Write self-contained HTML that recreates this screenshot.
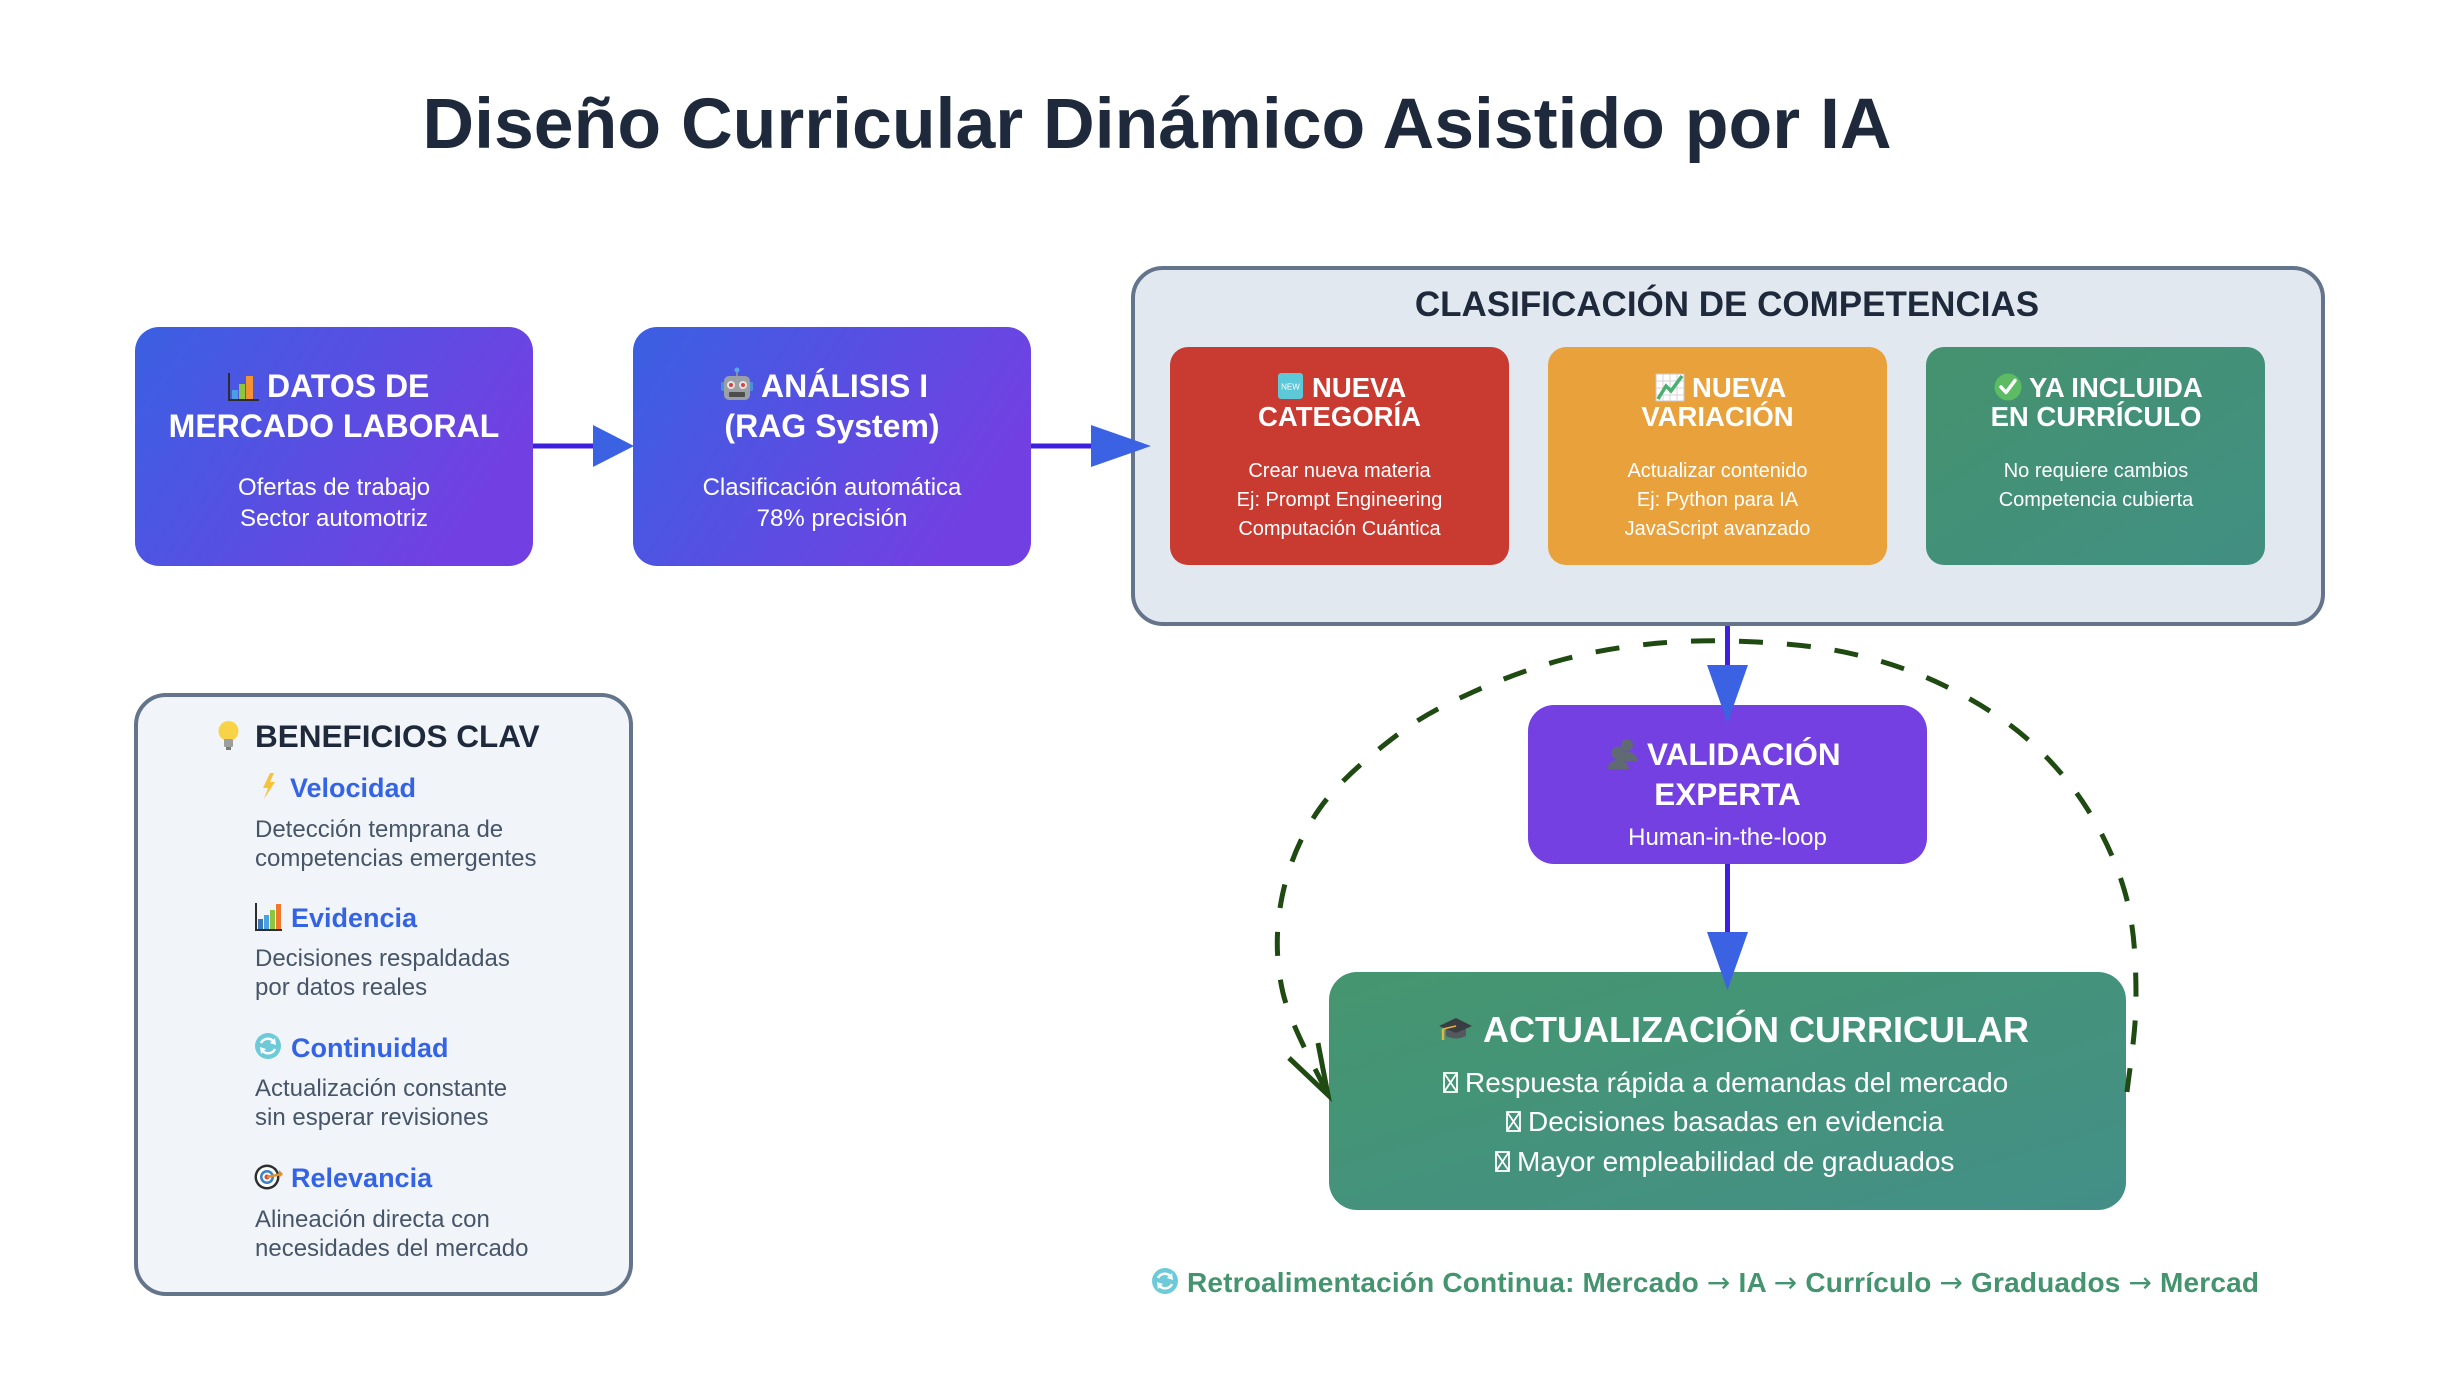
<!DOCTYPE html>
<html>
<head>
<meta charset="utf-8">
<style>
  html, body { margin: 0; padding: 0; background: #ffffff; }
  body { width: 2460px; height: 1384px; overflow: hidden; }
  svg { display: block; }
  text { font-family: "Liberation Sans", Arial, sans-serif; }
</style>
</head>
<body>
<svg width="2460" height="1384" viewBox="0 0 2460 1384" xmlns="http://www.w3.org/2000/svg">
  <defs>
    <linearGradient id="gb" x1="0" y1="0" x2="1" y2="0.4">
      <stop offset="0" stop-color="#3a60e2"/>
      <stop offset="1" stop-color="#7240e2"/>
    </linearGradient>
    <linearGradient id="gg" x1="0" y1="0" x2="1" y2="1">
      <stop offset="0" stop-color="#45966f"/>
      <stop offset="1" stop-color="#438f88"/>
    </linearGradient>
    <linearGradient id="gg2" x1="0" y1="0" x2="1" y2="1">
      <stop offset="0" stop-color="#44926e"/>
      <stop offset="1" stop-color="#428f83"/>
    </linearGradient>
  </defs>

  <rect x="0" y="0" width="2460" height="1384" fill="#ffffff"/>

  <!-- Title -->
  <text x="1157" y="148" text-anchor="middle" font-size="71.6" font-weight="bold" fill="#1e293b">Diseño Curricular Dinámico Asistido por IA</text>

  <!-- Box 1 -->
  <rect x="135" y="327" width="398" height="239" rx="24" fill="url(#gb)"/>
  <g>
    <rect x="232" y="390" width="6" height="9" fill="#4a9fe0"/>
    <rect x="239" y="384" width="6" height="15" fill="#8cc63f"/>
    <rect x="246" y="376" width="7" height="23" fill="#f39233"/>
    <path d="M229 373 V400 H259" stroke="#2d2d2d" stroke-width="2" fill="none"/>
  </g>
  <text x="267" y="397" font-size="32" font-weight="bold" fill="#ffffff">DATOS DE</text>
  <text x="334" y="437" text-anchor="middle" font-size="32" font-weight="bold" fill="#ffffff">MERCADO LABORAL</text>
  <text x="334" y="495" text-anchor="middle" font-size="24" fill="#ffffff">Ofertas de trabajo</text>
  <text x="334" y="526" text-anchor="middle" font-size="24" fill="#ffffff">Sector automotriz</text>

  <!-- Box 2 -->
  <rect x="633" y="327" width="398" height="239" rx="24" fill="url(#gb)"/>
  <g>
    <line x1="737" y1="370" x2="737" y2="377" stroke="#8a9096" stroke-width="2"/>
    <circle cx="737" cy="370" r="2.5" fill="#5aa9e6"/>
    <rect x="721" y="382" width="4" height="9" rx="1.5" fill="#4a90d9"/>
    <rect x="749" y="382" width="4" height="9" rx="1.5" fill="#4a90d9"/>
    <rect x="724" y="376" width="26" height="24" rx="5" fill="#9aa0a6"/>
    <circle cx="731" cy="385" r="4" fill="#e6e6e6"/>
    <circle cx="743" cy="385" r="4" fill="#e6e6e6"/>
    <circle cx="731" cy="385" r="2" fill="#d64541"/>
    <circle cx="743" cy="385" r="2" fill="#d64541"/>
    <rect x="729" y="392" width="16" height="5" rx="1" fill="#4d4d4d"/>
  </g>
  <text x="761" y="397" font-size="32" font-weight="bold" fill="#ffffff">ANÁLISIS I</text>
  <text x="832" y="437" text-anchor="middle" font-size="32" font-weight="bold" fill="#ffffff">(RAG System)</text>
  <text x="832" y="495" text-anchor="middle" font-size="24" fill="#ffffff">Clasificación automática</text>
  <text x="832" y="526" text-anchor="middle" font-size="24" fill="#ffffff">78% precisión</text>

  <!-- Container -->
  <rect x="1133" y="268" width="1190" height="356" rx="30" fill="#e2e8f0" stroke="#64748b" stroke-width="4"/>
  <text x="1727" y="316" text-anchor="middle" font-size="35" font-weight="bold" fill="#1e293b">CLASIFICACIÓN DE COMPETENCIAS</text>

  <!-- Red box -->
  <rect x="1170" y="347" width="339" height="218" rx="18" fill="#c93a31"/>
  <rect x="1278" y="373" width="25" height="26" rx="3" fill="#5cc8d8"/>
  <text x="1290.5" y="389.5" text-anchor="middle" font-size="8" fill="#ffffff">NEW</text>
  <text x="1312" y="397" font-size="27.5" font-weight="bold" fill="#ffffff">NUEVA</text>
  <text x="1339.5" y="426" text-anchor="middle" font-size="27.5" font-weight="bold" fill="#ffffff">CATEGORÍA</text>
  <text x="1339.5" y="477" text-anchor="middle" font-size="20" fill="#ffffff">Crear nueva materia</text>
  <text x="1339.5" y="506" text-anchor="middle" font-size="20" fill="#ffffff">Ej: Prompt Engineering</text>
  <text x="1339.5" y="535" text-anchor="middle" font-size="20" fill="#ffffff">Computación Cuántica</text>

  <!-- Orange box -->
  <rect x="1548" y="347" width="339" height="218" rx="18" fill="#e8a13b"/>
  <g>
    <rect x="1656" y="374" width="28" height="27" fill="#ffffff" stroke="#c9c9c9" stroke-width="1"/>
    <path d="M1663 374 V401 M1670 374 V401 M1677 374 V401 M1656 381 H1684 M1656 388 H1684 M1656 395 H1684" stroke="#d4d4d4" stroke-width="1"/>
    <polyline points="1658,399 1666,386 1671,391 1682,376" fill="none" stroke="#4caf72" stroke-width="3.5"/>
  </g>
  <text x="1692" y="397" font-size="27.5" font-weight="bold" fill="#ffffff">NUEVA</text>
  <text x="1717.5" y="426" text-anchor="middle" font-size="27.5" font-weight="bold" fill="#ffffff">VARIACIÓN</text>
  <text x="1717.5" y="477" text-anchor="middle" font-size="20" fill="#ffffff">Actualizar contenido</text>
  <text x="1717.5" y="506" text-anchor="middle" font-size="20" fill="#ffffff">Ej: Python para IA</text>
  <text x="1717.5" y="535" text-anchor="middle" font-size="20" fill="#ffffff">JavaScript avanzado</text>

  <!-- Green box -->
  <rect x="1926" y="347" width="339" height="218" rx="18" fill="url(#gg2)"/>
  <circle cx="2008" cy="387" r="13.5" fill="#5dbb63"/>
  <path d="M2001 387 L2006 392.5 L2015 380.5" fill="none" stroke="#ffffff" stroke-width="3.5" stroke-linecap="round" stroke-linejoin="round"/>
  <text x="2029" y="397" font-size="27.5" font-weight="bold" fill="#ffffff">YA INCLUIDA</text>
  <text x="2096" y="426" text-anchor="middle" font-size="27.5" font-weight="bold" fill="#ffffff">EN CURRÍCULO</text>
  <text x="2096" y="477" text-anchor="middle" font-size="20" fill="#ffffff">No requiere cambios</text>
  <text x="2096" y="506" text-anchor="middle" font-size="20" fill="#ffffff">Competencia cubierta</text>

  <!-- Validación box -->
  <rect x="1528" y="705" width="399" height="159" rx="26" fill="#7440e2"/>
  <g fill="#5f6a72">
    <circle cx="1627" cy="745" r="6"/>
    <path d="M1616 761 Q1618 752 1627 752 Q1636 752 1638 761 Z"/>
    <circle cx="1618" cy="753" r="6.5"/>
    <path d="M1607 769 Q1609 760 1618 760 Q1627 760 1629 769 Z"/>
  </g>
  <text x="1647" y="765" font-size="31.5" font-weight="bold" fill="#ffffff">VALIDACIÓN</text>
  <text x="1727.5" y="805" text-anchor="middle" font-size="31.5" font-weight="bold" fill="#ffffff">EXPERTA</text>
  <text x="1727.5" y="845" text-anchor="middle" font-size="24" fill="#ffffff">Human-in-the-loop</text>

  <!-- Actualización box -->
  <rect x="1329" y="972" width="797" height="238" rx="28" fill="url(#gg)"/>
  <g>
    <path d="M1446 1028 L1446 1036 Q1456 1041 1466 1036 L1466 1028 Z" fill="#55595f"/>
    <polygon points="1439,1026 1456,1018 1472,1026 1456,1033" fill="#3a3d42"/>
    <line x1="1456" y1="1026" x2="1443" y2="1029" stroke="#e8b43a" stroke-width="1.5"/>
    <line x1="1443" y1="1029" x2="1443" y2="1040" stroke="#e8b43a" stroke-width="2.5"/>
  </g>
  <text x="1483" y="1042" font-size="36" font-weight="bold" fill="#ffffff">ACTUALIZACIÓN CURRICULAR</text>
  <g fill="none" stroke="#ffffff" stroke-width="1.8">
    <rect x="1444" y="1073" width="13" height="19"/>
    <path d="M1444 1073 L1457 1092 M1457 1073 L1444 1092"/>
    <rect x="1507" y="1112" width="13" height="19"/>
    <path d="M1507 1112 L1520 1131 M1520 1112 L1507 1131"/>
    <rect x="1496" y="1152" width="13" height="19"/>
    <path d="M1496 1152 L1509 1171 M1509 1152 L1496 1171"/>
  </g>
  <text x="1465" y="1092" font-size="28" fill="#ffffff">Respuesta rápida a demandas del mercado</text>
  <text x="1528" y="1131" font-size="28" fill="#ffffff">Decisiones basadas en evidencia</text>
  <text x="1517" y="1171" font-size="28" fill="#ffffff">Mayor empleabilidad de graduados</text>

  <!-- Beneficios panel -->
  <rect x="136" y="695" width="495" height="599" rx="30" fill="#f1f5f9" stroke="#64748b" stroke-width="4"/>
  <g>
    <circle cx="228.5" cy="731" r="10" fill="#f8d347"/>
    <rect x="224" y="739" width="9" height="8" rx="1" fill="#9e9e9e"/>
    <rect x="226" y="747" width="5" height="3" fill="#7a7a7a"/>
  </g>
  <text x="255" y="747" font-size="31.5" font-weight="bold" fill="#1e293b">BENEFICIOS CLAV</text>

  <polygon points="270,773 263,788 268,788 264,799 275,782 270,782 274,773" fill="#f7c23c"/>
  <text x="290" y="797" font-size="27" font-weight="bold" fill="#3463e4">Velocidad</text>
  <text x="255" y="837" font-size="24" fill="#475569">Detección temprana de</text>
  <text x="255" y="866" font-size="24" fill="#475569">competencias emergentes</text>

  <g>
    <rect x="258" y="919" width="5" height="10" fill="#3b78b8"/>
    <rect x="264" y="915" width="5" height="14" fill="#4aa3e0"/>
    <rect x="270" y="910" width="5" height="19" fill="#8cc63f"/>
    <rect x="276" y="904" width="5" height="25" fill="#f0782a"/>
    <path d="M256 903 V930 H282" stroke="#2d2d2d" stroke-width="2" fill="none"/>
  </g>
  <text x="291" y="927" font-size="27" font-weight="bold" fill="#3463e4">Evidencia</text>
  <text x="255" y="966" font-size="24" fill="#475569">Decisiones respaldadas</text>
  <text x="255" y="995" font-size="24" fill="#475569">por datos reales</text>

  <g>
    <circle cx="268" cy="1046" r="13" fill="#6dcbd9"/>
    <path d="M261 1043 A7.5 7.5 0 0 1 274 1042" fill="none" stroke="#ffffff" stroke-width="2.5"/>
    <polygon points="275,1038 276,1045 270,1043" fill="#ffffff"/>
    <path d="M275 1049 A7.5 7.5 0 0 1 262 1050" fill="none" stroke="#ffffff" stroke-width="2.5"/>
    <polygon points="261,1054 260,1047 266,1049" fill="#ffffff"/>
  </g>
  <text x="291" y="1057" font-size="27" font-weight="bold" fill="#3463e4">Continuidad</text>
  <text x="255" y="1096" font-size="24" fill="#475569">Actualización constante</text>
  <text x="255" y="1125" font-size="24" fill="#475569">sin esperar revisiones</text>

  <g>
    <circle cx="267" cy="1177" r="12.5" fill="#2f2f2f"/>
    <circle cx="267" cy="1177" r="10" fill="#ffffff"/>
    <circle cx="267" cy="1177" r="7" fill="#3b82c4"/>
    <circle cx="267" cy="1177" r="4.5" fill="#ffffff"/>
    <circle cx="267" cy="1177" r="2.5" fill="#d9453b"/>
    <line x1="267" y1="1177" x2="282" y2="1174" stroke="#e0902a" stroke-width="2.5"/>
    <polygon points="279,1170 283,1174 279,1178" fill="#e0902a"/>
  </g>
  <text x="291" y="1187" font-size="27" font-weight="bold" fill="#3463e4">Relevancia</text>
  <text x="255" y="1227" font-size="24" fill="#475569">Alineación directa con</text>
  <text x="255" y="1256" font-size="24" fill="#475569">necesidades del mercado</text>

  <!-- Connectors -->
  <line x1="533" y1="446" x2="595" y2="446" stroke="#3d1fe0" stroke-width="5"/>
  <polygon points="593,425 634,446 593,467" fill="#3a62e2"/>
  <line x1="1031" y1="446" x2="1093" y2="446" stroke="#3d1fe0" stroke-width="5"/>
  <polygon points="1091,425 1151,446 1091,467" fill="#3a62e2"/>

  <line x1="1727.5" y1="626" x2="1727.5" y2="667" stroke="#3d1fe0" stroke-width="5"/>
  <polygon points="1707,665 1748,665 1727.5,723" fill="#3a62e2"/>
  <line x1="1727.5" y1="864" x2="1727.5" y2="934" stroke="#3d1fe0" stroke-width="5"/>
  <polygon points="1707,932 1748,932 1727.5,990" fill="#3a62e2"/>

  <!-- Dashed feedback loop -->
  <path d="M2127,1092 C2128.5,1076.7 2136,1032 2136,1000 C2136,968 2135,931.7 2127,900 C2119,868.3 2105,837.2 2088,810 C2071,782.8 2049.2,757.8 2025,737 C2000.8,716.2 1971.7,698.8 1943,685 C1914.3,671.2 1884,661.2 1853,654 C1822,646.8 1789.2,643.8 1757,642 C1724.8,640.2 1692,640.2 1660,643 C1628,645.8 1596.2,650.8 1565,659 C1533.8,667.2 1501,679.3 1473,692 C1445,704.7 1422.5,715.7 1397,735 C1371.5,754.3 1339.2,781 1320,808 C1300.8,835 1288.2,866.2 1282,897 C1275.8,927.8 1275.3,960 1283,993 C1290.7,1026 1320.5,1078 1328,1095" fill="none" stroke="#1f4a12" stroke-width="5" stroke-dasharray="24 24"/>
  <polyline points="1289,1058 1328,1095 1318,1043" fill="none" stroke="#1f4a12" stroke-width="5" stroke-linejoin="miter"/>

  <!-- Bottom caption -->
  <g>
    <circle cx="1165" cy="1281" r="13" fill="#6dcbd9"/>
    <path d="M1158 1278 A7.5 7.5 0 0 1 1171 1277" fill="none" stroke="#ffffff" stroke-width="2.5"/>
    <polygon points="1172,1273 1173,1280 1167,1278" fill="#ffffff"/>
    <path d="M1172 1284 A7.5 7.5 0 0 1 1159 1285" fill="none" stroke="#ffffff" stroke-width="2.5"/>
    <polygon points="1158,1289 1157,1282 1163,1284" fill="#ffffff"/>
  </g>
  <text x="1187" y="1292" font-size="28" font-weight="bold" fill="#43946f" textLength="1072">Retroalimentación Continua: Mercado <tspan font-family="'DejaVu Sans', sans-serif" font-weight="normal">→</tspan> IA <tspan font-family="'DejaVu Sans', sans-serif" font-weight="normal">→</tspan> Currículo <tspan font-family="'DejaVu Sans', sans-serif" font-weight="normal">→</tspan> Graduados <tspan font-family="'DejaVu Sans', sans-serif" font-weight="normal">→</tspan> Mercad</text>
</svg>
</body>
</html>
